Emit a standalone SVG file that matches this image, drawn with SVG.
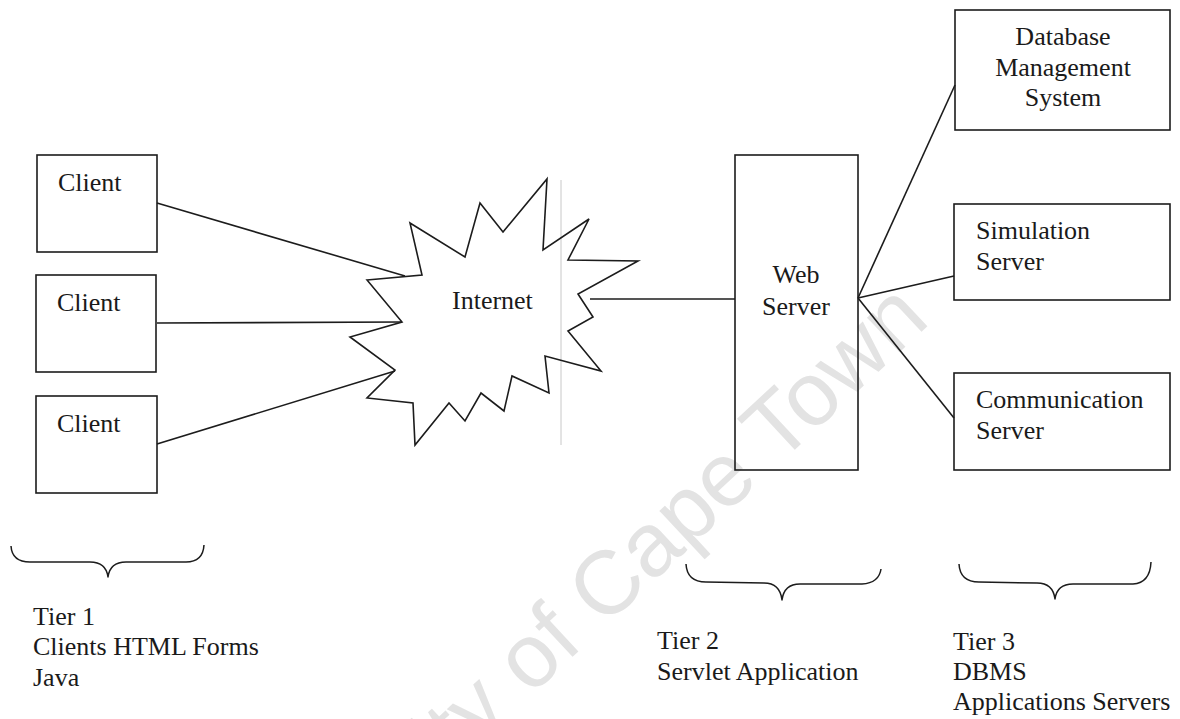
<svg xmlns="http://www.w3.org/2000/svg" width="1180" height="719" viewBox="0 0 1180 719">
  <style>
    .box { fill: none; stroke: #1c1c1c; stroke-width: 1.6; }
    .link { fill: none; stroke: #1c1c1c; stroke-width: 1.6; }
    .brace { fill: none; stroke: #1c1c1c; stroke-width: 1.5; stroke-linejoin: round; }
    .lbl { font-family: "Liberation Serif", "Times New Roman", serif; font-size: 26px; fill: #1a1a1a; }
    .mid { text-anchor: middle; }
    .mark { font-family: "Liberation Sans", Arial, sans-serif; font-size: 90px; fill: #e3e3e3; }
  </style>

  <rect width="1180" height="719" fill="#ffffff"/>

  <!-- watermark -->
  <text class="mark" transform="translate(223,983) rotate(-43)">University of Cape Town</text>

  <!-- thin guide line through the cloud -->
  <line x1="561" y1="180" x2="561" y2="445" stroke="#c8c8c8" stroke-width="1"/>

  <g id="connectors">
    <line class="link" x1="157" y1="203" x2="405" y2="276"/>
    <line class="link" x1="157" y1="323" x2="402" y2="322"/>
    <line class="link" x1="157" y1="444" x2="395" y2="371"/>
    <line class="link" x1="590" y1="299" x2="735" y2="299"/>
    <line class="link" x1="858" y1="298" x2="955" y2="85"/>
    <line class="link" x1="858" y1="298" x2="954" y2="276"/>
    <line class="link" x1="858" y1="298" x2="954" y2="418"/>
  </g>

  <g id="client1">
    <rect class="box" x="37" y="155" width="120" height="97"/>
    <text class="lbl" x="58" y="191">Client</text>
  </g>
  <g id="client2">
    <rect class="box" x="36" y="275" width="120" height="97"/>
    <text class="lbl" x="57" y="311">Client</text>
  </g>
  <g id="client3">
    <rect class="box" x="36" y="396" width="121" height="97"/>
    <text class="lbl" x="57" y="432">Client</text>
  </g>

  <g id="internet">
    <polygon class="box" points="367,280 422,275 410,223 465,257 480,203 503,232 547,179 543,250 589,219 568,260 638,261 578,294 593,317 568,331 601,371 545,356 549,393 512,376 504,411 481,393 465,421 449,403 415,445 413,403 367,398 395,370 350,337 402,322"/>
    <text class="lbl" x="452" y="309">Internet</text>
  </g>

  <g id="web-server">
    <rect class="box" x="735" y="155" width="123" height="315"/>
    <text class="lbl mid" x="796" y="283">Web</text>
    <text class="lbl mid" x="796" y="315">Server</text>
  </g>

  <g id="dbms">
    <rect class="box" x="955" y="10" width="215" height="120"/>
    <text class="lbl mid" x="1063" y="45">Database</text>
    <text class="lbl mid" x="1063" y="76">Management</text>
    <text class="lbl mid" x="1063" y="106">System</text>
  </g>

  <g id="simulation-server">
    <rect class="box" x="954" y="204" width="216" height="96"/>
    <text class="lbl" x="976" y="239">Simulation</text>
    <text class="lbl" x="976" y="270">Server</text>
  </g>

  <g id="communication-server">
    <rect class="box" x="954" y="373" width="216" height="97"/>
    <text class="lbl" x="976" y="408">Communication</text>
    <text class="lbl" x="976" y="439">Server</text>
  </g>

  <g id="tier1">
    <path class="brace" d="M11,546 Q12,562 30,562 L90,562 Q106,562 108,577 Q110,562 126,562 L186,562 Q203,562 204,545"/>
    <text class="lbl" x="33" y="625">Tier 1</text>
    <text class="lbl" x="33" y="655">Clients HTML Forms</text>
    <text class="lbl" x="33" y="686">Java</text>
  </g>

  <g id="tier2">
    <path class="brace" d="M686,564 Q687,582 706,582 L764,583 Q780,583 782,600 Q784,584 800,584 L862,584 Q879,583 881,569"/>
    <text class="lbl" x="657" y="649">Tier 2</text>
    <text class="lbl" x="657" y="680">Servlet Application</text>
  </g>

  <g id="tier3">
    <path class="brace" d="M959,564 Q960,582 979,582 L1037,583 Q1053,583 1055,599 Q1057,584 1073,584 L1133,584 Q1150,583 1151,562"/>
    <text class="lbl" x="953" y="650">Tier 3</text>
    <text class="lbl" x="953" y="680">DBMS</text>
    <text class="lbl" x="953" y="710">Applications Servers</text>
  </g>
</svg>
